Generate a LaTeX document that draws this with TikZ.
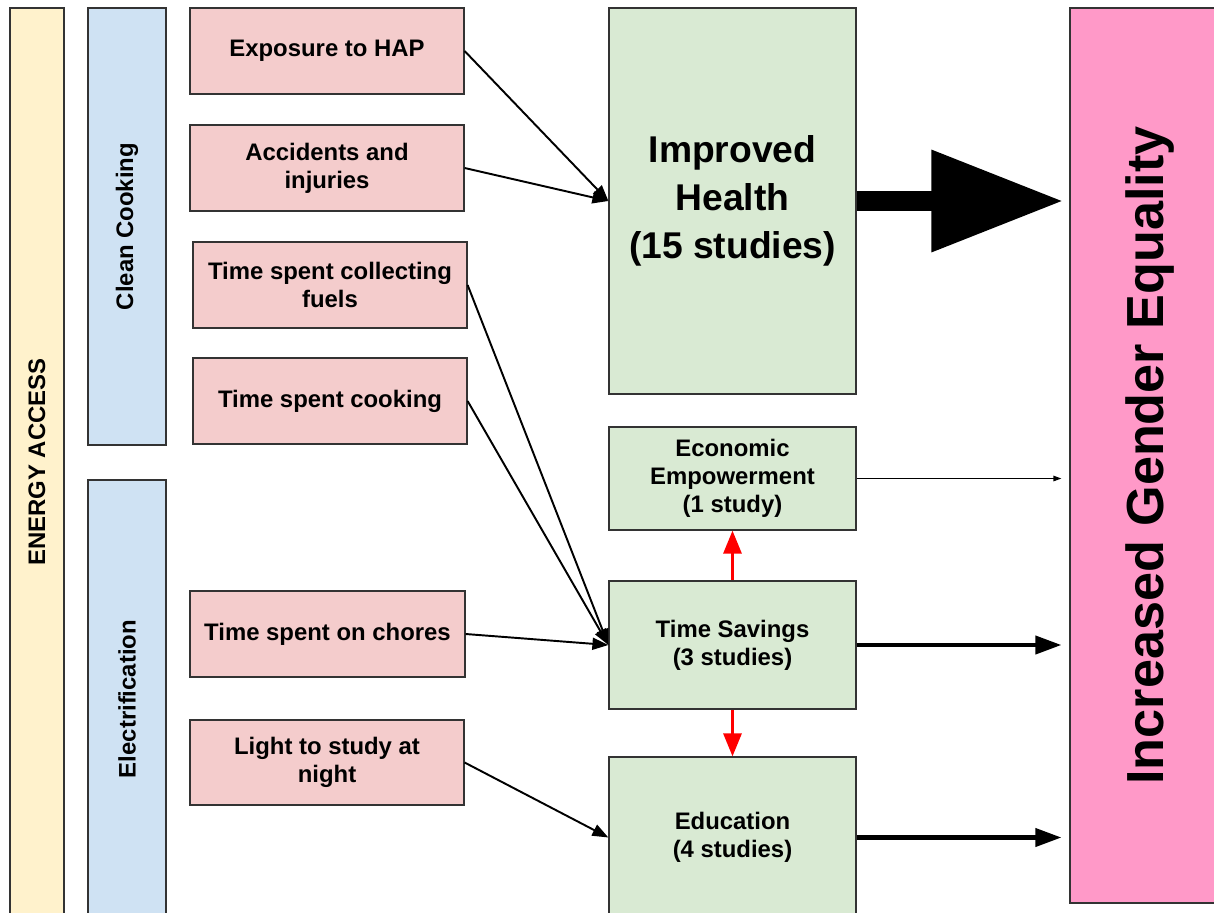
\documentclass[tikz,border=0pt]{standalone}
\usepackage{fontspec}
\setmainfont{Liberation Sans}
\usetikzlibrary{arrows.meta}

\definecolor{barYellow}{HTML}{FFF2CC}
\definecolor{barBlue}{HTML}{CFE2F3}
\definecolor{causePink}{HTML}{F4CCCC}
\definecolor{effectGreen}{HTML}{D9EAD3}
\definecolor{goalPink}{HTML}{FF99C8}

\begin{document}
\begin{tikzpicture}[x=0.02cm,y=-0.02cm,
        font=\bfseries\fontsize{13.6}{15.9}\selectfont,
        box/.style={draw=black!80, line width=0.7pt, inner sep=0pt, align=center},
        feed/.style={line width=1.1pt, -{Triangle[length=0.32cm,width=0.24cm]}},
        link/.style={red, line width=1.7pt, -{Triangle[length=0.46cm,width=0.36cm]}},
        outcome/.style={line width=2.3pt, shorten >=0.16cm, -{Triangle[length=0.52cm,width=0.36cm]}},
    ]
            \def\pxlen{0.02cm}
            \newcommand\block[7]{% {<name>}{<cx>}{<cy>}{<width>}{<height>}{<style>}{<text>}
                \node[box, #6, minimum width=#4*\pxlen, minimum height=#5*\pxlen] (#1) at (#2,#3) {#7};
            }
            \useasboundingbox (0,0) rectangle (1214,913);

            % side bars (rotated, so north is the left edge)
            \block{energy}{37}{462}{908}{54}{fill=barYellow, rotate=90}{ENERGY ACCESS}
            \block{cooking}{127}{226.5}{437}{78}{fill=barBlue, rotate=90}{Clean Cooking}
            \block{elec}{127}{699}{438}{78}{fill=barBlue, rotate=90}{Electrification}
            \block{gender}{1150}{455.5}{895}{160}{fill=goalPink, rotate=90, font=\bfseries\fontsize{29.7}{34}\selectfont}{Increased Gender Equality}

            % causes
            \block{hap}{327}{51}{274}{86}{fill=causePink}{Exposure to HAP}
            \block{acc}{327}{168}{274}{86}{fill=causePink}{Accidents and\\injuries}
            \block{fuel}{330}{285}{274}{86}{fill=causePink}{Time spent collecting\\fuels}
            \block{cook}{330}{401}{274}{86}{fill=causePink}{Time spent cooking}
            \block{chore}{327.5}{634}{275}{86}{fill=causePink}{Time spent on chores}
            \block{light}{327}{762.5}{274}{85}{fill=causePink}{Light to study at\\night}

            % effects
            \block{health}{732.5}{201}{247}{386}{fill=effectGreen, font=\bfseries\fontsize{21.2}{27.2}\selectfont}{Improved\\Health\\(15 studies)}
            \block{econ}{732.5}{478.5}{247}{103}{fill=effectGreen}{Economic\\Empowerment\\(1 study)}
            \block{ts}{732.5}{645}{247}{128}{fill=effectGreen}{Time Savings\\(3 studies)}
            \block{edu}{732.5}{837.5}{247}{161}{fill=effectGreen}{Education\\(4 studies)}

            \draw[feed] (hap.east) -- (health.west);
            \draw[feed] (acc.east) -- (health.west);
            \draw[feed] (fuel.east) -- (ts.west);
            \draw[feed] (cook.east) -- (ts.west);
            \draw[feed] (chore.east) -- (ts.west);
            \draw[feed] (light.east) -- (edu.west);

            \draw[link] (ts.north) -- (econ.south);
            \draw[link] (ts.south) -- (edu.north);

            \draw[line width=0.4cm, shorten >=0.12cm, -{Triangle[length=2.64cm,width=1.94cm]}] (health.east) -- (health.east -| gender.north);
            \draw[line width=0.7pt, shorten >=0.16cm, -{Triangle[length=0.16cm,width=0.11cm]}] (econ.east) -- (econ.east -| gender.north);
            \draw[outcome] (ts.east) -- (ts.east -| gender.north);
            \draw[outcome] (edu.east) -- (edu.east -| gender.north);
        \end{tikzpicture}
\end{document}
